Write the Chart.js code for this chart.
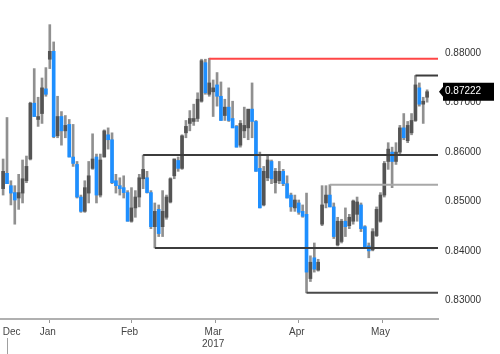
<!DOCTYPE html>
<html>
<head>
<meta charset="utf-8">
<script src="https://cdn.jsdelivr.net/npm/chart.js@4.4.1/dist/chart.umd.min.js"></script>
<style>
  html, body { margin: 0; padding: 0; background: #fff; }
  #wrap { width: 500px; height: 354px; }
</style>
</head>
<body>
<div id="wrap"><canvas id="chart"></canvas></div>
<script>
// EUR/GBP daily candles, Dec 2016 - Jun 2017
const dates = [
  '2016-12-30',
  '2017-01-02','2017-01-03','2017-01-04','2017-01-05','2017-01-06','2017-01-09','2017-01-10','2017-01-11','2017-01-12','2017-01-13',
  '2017-01-16','2017-01-17','2017-01-18','2017-01-19','2017-01-20','2017-01-23','2017-01-24','2017-01-25','2017-01-26','2017-01-27',
  '2017-01-30','2017-01-31',
  '2017-02-01','2017-02-02','2017-02-03','2017-02-06','2017-02-07','2017-02-08','2017-02-09','2017-02-10','2017-02-13','2017-02-14',
  '2017-02-15','2017-02-16','2017-02-17','2017-02-20','2017-02-21','2017-02-22','2017-02-23','2017-02-24','2017-02-27','2017-02-28',
  '2017-03-01','2017-03-02','2017-03-03','2017-03-06','2017-03-07','2017-03-08','2017-03-09','2017-03-10','2017-03-13','2017-03-14',
  '2017-03-15','2017-03-16','2017-03-17','2017-03-20','2017-03-21','2017-03-22','2017-03-23','2017-03-24','2017-03-27','2017-03-28',
  '2017-03-29','2017-03-30','2017-03-31',
  '2017-04-03','2017-04-04','2017-04-05','2017-04-06','2017-04-07','2017-04-10','2017-04-11','2017-04-12','2017-04-13','2017-04-14',
  '2017-04-17','2017-04-18','2017-04-19','2017-04-20','2017-04-21','2017-04-24','2017-04-25','2017-04-26','2017-04-27','2017-04-28',
  '2017-05-01','2017-05-02','2017-05-03','2017-05-04','2017-05-05','2017-05-08','2017-05-09','2017-05-10','2017-05-11','2017-05-12',
  '2017-05-15','2017-05-16','2017-05-17','2017-05-18','2017-05-19','2017-05-22','2017-05-23','2017-05-24','2017-05-25','2017-05-26',
  '2017-05-29','2017-05-30','2017-05-31',
  '2017-06-01'
];

const opens = [
  0.8526,0.8557,0.8532,0.8518,0.8507,0.8517,0.8542,0.8586,0.8699,0.8666,
  0.8678,0.8728,0.8788,0.8804,0.8633,0.8672,0.8643,0.8656,0.8590,0.8575,
  0.8509,0.8480,0.8517,0.8567,0.8590,0.8513,0.8590,0.8635,0.8625,0.8542,
  0.8532,0.8528,0.8518,0.8460,0.8487,0.8509,0.8546,0.8548,0.8518,0.8449,
  0.8484,0.8449,0.8468,0.8499,0.8552,0.8583,0.8567,0.8639,0.8658,0.8662,
  0.8668,0.8703,0.8781,0.8717,0.8722,0.8736,0.8713,0.8674,0.8691,0.8668,
  0.8652,0.8614,0.8643,0.8649,0.8687,0.8662,0.8567,0.8493,0.8548,0.8581,
  0.8538,0.8542,0.8561,0.8536,0.8513,0.8487,0.8497,0.8480,0.8474,0.8344,
  0.8386,0.8361,0.8454,0.8497,0.8513,0.8489,0.8412,0.8419,0.8460,0.8451,
  0.8460,0.8474,0.8493,0.8449,0.8410,0.8402,0.8431,0.8460,0.8513,0.8581,
  0.8600,0.8581,0.8600,0.8649,0.8623,0.8639,0.8664,0.8730,0.8697,0.8711
];
const highs = [
  0.8586,0.8670,0.8542,0.8532,0.8555,0.8584,0.8592,0.8701,0.8769,0.8711,
  0.8750,0.8771,0.8858,0.8823,0.8713,0.8682,0.8674,0.8666,0.8656,0.8581,
  0.8513,0.8542,0.8581,0.8637,0.8596,0.8596,0.8645,0.8649,0.8639,0.8555,
  0.8548,0.8552,0.8522,0.8528,0.8522,0.8555,0.8594,0.8561,0.8522,0.8497,
  0.8493,0.8522,0.8513,0.8548,0.8586,0.8590,0.8635,0.8664,0.8684,0.8697,
  0.8720,0.8788,0.8788,0.8790,0.8746,0.8761,0.8742,0.8707,0.8730,0.8703,
  0.8654,0.8664,0.8691,0.8684,0.8740,0.8664,0.8600,0.8571,0.8594,0.8584,
  0.8567,0.8581,0.8565,0.8552,0.8517,0.8513,0.8503,0.8493,0.8517,0.8390,
  0.8416,0.8383,0.8532,0.8532,0.8534,0.8497,0.8468,0.8464,0.8487,0.8474,
  0.8503,0.8509,0.8497,0.8451,0.8416,0.8445,0.8489,0.8518,0.8581,0.8619,
  0.8610,0.8619,0.8654,0.8678,0.8662,0.8678,0.8755,0.8740,0.8711,0.8726
];
const lows = [
  0.8513,0.8536,0.8493,0.8454,0.8484,0.8497,0.8538,0.8584,0.8672,0.8652,
  0.8658,0.8713,0.8769,0.8629,0.8629,0.8614,0.8629,0.8590,0.8571,0.8507,
  0.8478,0.8478,0.8497,0.8565,0.8497,0.8509,0.8590,0.8606,0.8536,0.8517,
  0.8513,0.8507,0.8460,0.8458,0.8468,0.8489,0.8526,0.8517,0.8445,0.8406,
  0.8429,0.8429,0.8464,0.8497,0.8546,0.8561,0.8565,0.8629,0.8643,0.8654,
  0.8662,0.8701,0.8717,0.8713,0.8672,0.8693,0.8664,0.8664,0.8662,0.8649,
  0.8610,0.8610,0.8629,0.8625,0.8629,0.8561,0.8487,0.8491,0.8542,0.8536,
  0.8517,0.8536,0.8532,0.8507,0.8480,0.8480,0.8474,0.8468,0.8315,0.8338,
  0.8357,0.8359,0.8451,0.8487,0.8489,0.8425,0.8410,0.8416,0.8429,0.8445,
  0.8454,0.8460,0.8439,0.8406,0.8386,0.8400,0.8429,0.8458,0.8509,0.8565,
  0.8528,0.8575,0.8596,0.8625,0.8619,0.8635,0.8662,0.8693,0.8658,0.8701
];
const closes = [
  0.8561,0.8536,0.8517,0.8503,0.8518,0.8546,0.8571,0.8699,0.8672,0.8672,
  0.8730,0.8717,0.8804,0.8631,0.8672,0.8643,0.8654,0.8590,0.8577,0.8509,
  0.8480,0.8528,0.8552,0.8586,0.8513,0.8584,0.8643,0.8625,0.8538,0.8532,
  0.8526,0.8518,0.8460,0.8487,0.8509,0.8548,0.8565,0.8518,0.8449,0.8480,
  0.8435,0.8480,0.8509,0.8546,0.8586,0.8567,0.8633,0.8652,0.8668,0.8668,
  0.8707,0.8785,0.8720,0.8740,0.8730,0.8713,0.8664,0.8691,0.8664,0.8649,
  0.8610,0.8658,0.8654,0.8687,0.8662,0.8561,0.8487,0.8561,0.8584,0.8546,
  0.8561,0.8561,0.8536,0.8507,0.8489,0.8503,0.8478,0.8470,0.8357,0.8377,
  0.8363,0.8377,0.8493,0.8513,0.8489,0.8429,0.8460,0.8460,0.8449,0.8468,
  0.8501,0.8499,0.8445,0.8406,0.8400,0.8439,0.8484,0.8513,0.8577,0.8606,
  0.8581,0.8600,0.8649,0.8629,0.8654,0.8664,0.8736,0.8697,0.8703,0.87222
];

const yTicks = [0.83, 0.84, 0.85, 0.86, 0.87, 0.88];

// support / resistance lines: level and the day they start from
const levelValues = [0.8789, 0.8594, 0.8406, 0.8315, 0.8534, 0.8755];
const levelStarts = ['2017-03-15', '2017-02-20', '2017-02-23', '2017-04-19', '2017-04-27', '2017-05-29'];
const levelColors = ['#ff4646', '#3c3c3c', '#3c3c3c', '#4a4a4a', '#a8a8a8', '#3c3c3c'];

const monthNames = ['Jan','Feb','Mar','Apr','May','Jun','Jul','Aug','Sep','Oct','Nov','Dec'];

const X_MIN = -0.8, X_MAX = 111.8;
const Y_MIN = 0.82621, Y_MAX = 0.888155;

const UP = '#545454', DOWN = '#1e8fff', WICK = '#909090';
const FONT = { family: '"Liberation Sans", Arial, sans-serif', size: 10 };

// month boundaries (first trading day of each month) and label positions
const monthStarts = [];
const monthLabels = [];
dates.forEach((d, i) => {
  if (i === 0 || d.slice(0, 7) !== dates[i - 1].slice(0, 7)) monthStarts.push(i);
});
monthStarts.forEach((s, m) => {
  const end = m + 1 < monthStarts.length ? monthStarts[m + 1] - 1 : dates.length - 1;
  if (m === monthStarts.length - 1) return; // partial month at the right edge, no label
  const mon = +dates[s].slice(5, 7) - 1;
  let label = monthNames[mon];
  if (mon === 2) label = [label, dates[s].slice(0, 4)];
  monthLabels.push({ value: Math.max((s + end) / 2, X_MIN + 3), label });
});
const tickMarks = monthStarts.filter(s => dates[s].slice(8) !== '30');
const yearStart = dates.findIndex(d => d.slice(0, 4) === '2017');

const wickData = dates.map((d, i) => ({ x: i, y: [lows[i], highs[i]] }));
const bodyData = dates.map((d, i) => ({ x: i, y: [opens[i], closes[i]] }));
const bodyColors = dates.map((d, i) => closes[i] >= opens[i] ? UP : DOWN);

const lineSets = levelValues.map((v, k) => ({
  type: 'line',
  data: [{ x: dates.indexOf(levelStarts[k]), y: v }, { x: X_MAX, y: v }],
  borderColor: levelColors[k],
  borderWidth: 2,
  pointRadius: 0,
  order: 1
}));

const overlay = {
  id: 'overlay',
  afterDraw(chart) {
    const { ctx } = chart;
    const x = chart.scales.x, y = chart.scales.y;
    // year separator under the axis
    const yx = Math.round(x.getPixelForValue(yearStart)) + 0.5;
    ctx.save();
    ctx.strokeStyle = '#a0a0a0';
    ctx.lineWidth = 1;
    ctx.beginPath();
    ctx.moveTo(yx, 338);
    ctx.lineTo(yx, 354);
    ctx.stroke();
    // last price tag
    const last = closes[closes.length - 1];
    const py = y.getPixelForValue(last);
    const left = chart.chartArea.right;
    ctx.fillStyle = '#000';
    ctx.beginPath();
    ctx.moveTo(left + 1, py);
    ctx.lineTo(left + 5, py - 5);
    ctx.lineTo(left + 5, py - 9);
    ctx.lineTo(left + 56, py - 9);
    ctx.lineTo(left + 56, py + 9);
    ctx.lineTo(left + 5, py + 9);
    ctx.lineTo(left + 5, py + 5);
    ctx.closePath();
    ctx.fill();
    ctx.fillStyle = '#fff';
    ctx.font = FONT.size + 'px ' + FONT.family;
    ctx.textBaseline = 'middle';
    ctx.fillText(last.toFixed(5), left + 7, py);
    ctx.restore();
  }
};

new Chart(document.getElementById('chart'), {
  type: 'bar',
  data: {
    datasets: [
      ...lineSets,
      { data: bodyData, backgroundColor: bodyColors, barThickness: 3, grouped: false, minBarLength: 1, order: 2 },
      { data: wickData, backgroundColor: WICK, barThickness: 2, grouped: false, order: 3 }
    ]
  },
  options: {
    responsive: true,
    maintainAspectRatio: false,
    animation: false,
    devicePixelRatio: 1,
    layout: { padding: 0, autoPadding: false },
    plugins: { legend: { display: false }, tooltip: { enabled: false } },
    scales: {
      x: {
        type: 'linear',
        min: X_MIN,
        max: X_MAX,
        offset: false,
        afterBuildTicks: s => {
          s.ticks = [...tickMarks.map(v => ({ value: v })), ...monthLabels.map(m => ({ value: m.value }))];
        },
        afterFit: s => { s.height = 35; },
        ticks: {
          autoSkip: false,
          maxRotation: 0,
          padding: 3,
          color: '#444',
          font: FONT,
          callback: v => {
            const m = monthLabels.find(l => l.value === v);
            return m ? m.label : '';
          }
        },
        grid: {
          drawOnChartArea: false,
          drawTicks: true,
          tickLength: 4,
          tickWidth: 1,
          tickColor: c => tickMarks.includes(c.tick && c.tick.value) ? '#999' : 'rgba(0,0,0,0)'
        },
        border: { display: true, color: '#b0b0b0', width: 2 }
      },
      y: {
        position: 'right',
        min: Y_MIN,
        max: Y_MAX,
        afterBuildTicks: s => { s.ticks = yTicks.map(v => ({ value: v })); },
        afterFit: s => { s.width = 62; },
        ticks: { padding: 7, color: '#333', font: FONT, callback: v => v.toFixed(5) },
        grid: { display: false, drawTicks: false },
        border: { display: false }
      }
    }
  },
  plugins: [overlay]
});
</script>
</body>
</html>
